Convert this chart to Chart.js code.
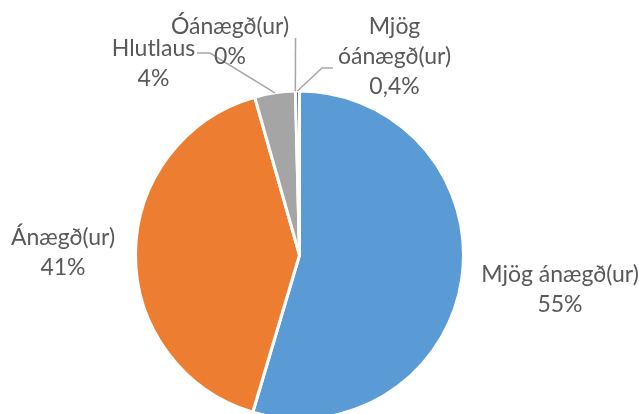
<!DOCTYPE html>
<html>
<head>
<meta charset="utf-8">
<script src="https://cdn.jsdelivr.net/npm/chart.js@4/dist/chart.umd.min.js"></script>
<style>
    html, body { margin: 0; padding: 0; background: #fff; overflow: hidden; }
    #wrap { position: absolute; left: 0; top: 0; width: 639px; height: 430px; }
</style>
</head>
<body>
<div id="wrap"><canvas id="pieChart" width="639" height="430"></canvas></div>
<script>
// gögnin
const categories = ['Mjög ánægð(ur)', 'Ánægð(ur)', 'Hlutlaus', 'Óánægð(ur)', 'Mjög óánægð(ur)'];
const shares = [54.6, 41.0, 4.0, 0, 0.4];
const colors = ['#5B9BD5', '#ED7D31', '#A5A5A5', '#FFC000', '#4472C4'];

// label placement relative to the pie centre, text lines, optional leader line
const labelLayout = [
    { dx: 260.5, dy: 35, lines: ['Mjög ánægð(ur)'] },
    { dx: -236.5, dy: -2, lines: ['Ánægð(ur)'] },
    { dx: -146, dy: -191, lines: ['Hlutlaus'], leader: [[43.5, -11], [56.5, -11]] },
    { dx: -69.5, dy: -213, lines: ['Óánægð(ur)'], leader: [[65.5, -4]] },
    { dx: 95, dy: -198, lines: ['Mjög', 'óánægð(ur)'], leader: [[-61.5, 11], [-72.5, 11]] }
];

function fmtPct(v) {
    // sama snið og í Excel: heil tala, en einn aukastafur undir 1%
    if (v > 0 && v < 1) return v.toFixed(1).replace('.', ',') + '%';
    return Math.round(v) + '%';
}

const pieLabels = {
    id: 'pieLabels',
    afterDatasetsDraw(chart) {
        const ctx = chart.ctx;
        const meta = chart.getDatasetMeta(0);
        ctx.save();
        meta.data.forEach((arc, i) => {
            const p = arc.getProps(['x', 'y', 'startAngle', 'endAngle', 'outerRadius'], true);
            const mid = (p.startAngle + p.endAngle) / 2;
            const ex = p.x + Math.cos(mid) * p.outerRadius;
            const ey = p.y + Math.sin(mid) * p.outerRadius;
            const lay = labelLayout[i];
            const lx = p.x + lay.dx;
            const ly = p.y + lay.dy;

            if (lay.leader) {
                ctx.beginPath();
                ctx.strokeStyle = '#A6A6A6';
                ctx.lineWidth = 1.5;
                lay.leader.forEach((pt, k) => {
                    const px = lx + pt[0], py = ly + pt[1];
                    if (k === 0) ctx.moveTo(px, py); else ctx.lineTo(px, py);
                });
                ctx.lineTo(ex, ey);
                ctx.stroke();
            }

            const lines = lay.lines.concat([fmtPct(shares[i])]);
            const lh = 30;
            ctx.fillStyle = '#595959';
            ctx.font = '23px Lato';
            ctx.textAlign = 'center';
            ctx.textBaseline = 'middle';
            const top = ly - (lines.length - 1) * lh / 2;
            lines.forEach((t, k) => ctx.fillText(t, lx, top + k * lh));
        });
        ctx.restore();
    }
};

const ctx = document.getElementById('pieChart').getContext('2d');
new Chart(ctx, {
    type: 'pie',
    data: {
        labels: categories,
        datasets: [{
            data: shares,
            backgroundColor: colors,
            borderColor: '#ffffff',
            borderWidth: 3
        }]
    },
    options: {
        responsive: false,
        animation: false,
        events: [],
        layout: {
            padding: { left: 134, right: 174, top: 89.5, bottom: 9.5 }
        },
        plugins: {
            legend: { display: false },
            tooltip: { enabled: false }
        }
    },
    plugins: [pieLabels]
});
</script>
</body>
</html>
